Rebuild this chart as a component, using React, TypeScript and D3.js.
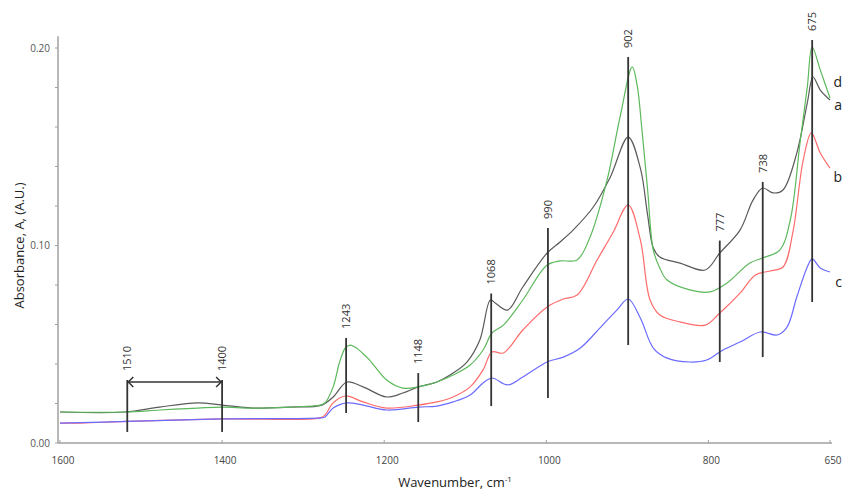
import React, { useEffect, useRef } from 'react';
import * as d3 from 'd3';

// spectra: [wavenumber, absorbance]
const seriesD: [number, number][] = [
  [1600, 0.0157], [1520, 0.0157], [1477, 0.0167], [1430, 0.0177], [1400, 0.0182], [1363, 0.0177],
  [1316, 0.0182], [1279, 0.0192], [1273, 0.0203], [1263, 0.0284], [1255, 0.041], [1248, 0.0481],
  [1242, 0.0496], [1236, 0.0486], [1227, 0.0456], [1218, 0.042], [1197, 0.0319], [1177, 0.0278],
  [1158, 0.0284], [1135, 0.0309], [1115, 0.0344], [1094, 0.0395], [1078, 0.0471], [1067, 0.0557],
  [1053, 0.0597], [1029, 0.0724], [999, 0.0901], [983, 0.0922], [962, 0.0927], [946, 0.1043],
  [925, 0.1332], [909, 0.1651], [894, 0.1904], [888, 0.1813], [882, 0.1585], [875, 0.1281],
  [868, 0.0977], [860, 0.0886], [851, 0.0825], [823, 0.0775], [798, 0.0765], [777, 0.081],
  [749, 0.0911], [733, 0.0937], [712, 0.0977], [699, 0.1129], [687, 0.1519], [678, 0.1803],
  [672, 0.2005], [662, 0.1889], [650, 0.1747]
];

const seriesA: [number, number][] = [
  [1600, 0.0157], [1520, 0.0157], [1477, 0.0182], [1430, 0.0203], [1400, 0.0192], [1363, 0.0177],
  [1316, 0.0182], [1277, 0.0192], [1263, 0.0233], [1246, 0.0309], [1226, 0.0284], [1197, 0.0233],
  [1177, 0.0253], [1158, 0.0284], [1135, 0.0309], [1115, 0.0354], [1098, 0.041], [1082, 0.0522],
  [1069, 0.0724], [1063, 0.0709], [1048, 0.0673], [1029, 0.079], [999, 0.0962], [983, 0.1018],
  [967, 0.1078], [942, 0.1195], [921, 0.1347], [899, 0.1549], [884, 0.1392], [875, 0.1154],
  [868, 0.0987], [860, 0.0942], [835, 0.0911], [804, 0.0876], [786, 0.0962], [761, 0.1078],
  [745, 0.123], [733, 0.1291], [720, 0.1266], [708, 0.1281], [691, 0.1468], [678, 0.1722],
  [671, 0.1853], [662, 0.1787], [650, 0.1737]
];

const seriesB: [number, number][] = [
  [1600, 0.0101], [1575, 0.0101], [1517, 0.0109], [1400, 0.0122], [1279, 0.0127], [1273, 0.0142],
  [1263, 0.0203], [1248, 0.0238], [1226, 0.0208], [1197, 0.0177], [1158, 0.0192], [1135, 0.0208],
  [1115, 0.0233], [1094, 0.0284], [1078, 0.037], [1067, 0.0461], [1053, 0.0456], [1029, 0.0572],
  [999, 0.0689], [979, 0.0729], [962, 0.0749], [937, 0.0929], [918, 0.1063], [899, 0.1205],
  [884, 0.1028], [872, 0.0724], [860, 0.0648], [835, 0.0613], [804, 0.0597], [786, 0.0658],
  [761, 0.0759], [742, 0.0851], [724, 0.0871], [708, 0.0891], [696, 0.1063], [683, 0.1433],
  [673, 0.157], [662, 0.1468], [650, 0.1392]
];

const seriesC: [number, number][] = [
  [1600, 0.0101], [1517, 0.0109], [1400, 0.0122], [1279, 0.0127], [1273, 0.0132], [1263, 0.0177],
  [1246, 0.0203], [1226, 0.0192], [1197, 0.0167], [1158, 0.0182], [1135, 0.0187], [1115, 0.0208],
  [1094, 0.0243], [1078, 0.0304], [1067, 0.0329], [1048, 0.0294], [1029, 0.0334], [999, 0.041],
  [979, 0.0435], [958, 0.0481], [934, 0.0582], [913, 0.0673], [899, 0.0729], [884, 0.0633],
  [868, 0.0481], [851, 0.043], [823, 0.041], [802, 0.042], [782, 0.0471], [761, 0.0511],
  [736, 0.0562], [715, 0.0547], [703, 0.0587], [691, 0.0739], [678, 0.0891], [672, 0.0932],
  [662, 0.0886], [650, 0.0866]
];

const spectra = [
  { name: 'a', color: '#5a5a5a', values: seriesA },
  { name: 'd', color: '#5cb85c', values: seriesD },
  { name: 'b', color: '#ff6b6b', values: seriesB },
  { name: 'c', color: '#6b6bff', values: seriesC }
];

// peak markers: label, wavenumber where line is drawn, top and bottom (absorbance)
const peakLabels = ['1510', '1400', '1243', '1148', '1068', '990', '902', '777', '738', '675'];
const peakPos = [1517, 1400, 1247, 1158, 1068, 998, 899, 786, 733, 672];
const peakTop = [0.0319, 0.0319, 0.0532, 0.0354, 0.0757, 0.1089, 0.1954, 0.1025, 0.1322, 0.2041];
const peakBottom = [0.0056, 0.0056, 0.0152, 0.0106, 0.0187, 0.0228, 0.0496, 0.041, 0.0435, 0.0714];

// double arrow between 1510 and 1400
const arrowSpan = [1517, 1400];
const arrowLevel = 0.0309;

// curve tags at the right edge
const tagNames = ['d', 'a', 'b', 'c'];
const tagLevels = [0.1803, 0.1686, 0.1321, 0.0792];

const xTicks = [1600, 1400, 1200, 1000, 800, 650];
const yTicks = [0, 0.1, 0.2];
const yMinor = d3.range(0, 0.201, 0.02);

const W = 843;
const H = 491;
const FONT = "'Open Sans', 'Noto Sans', sans-serif";

const App = () => {
  const svgRef = useRef<SVGSVGElement>(null);

  useEffect(() => {
    const svg = d3.select(svgRef.current);
    svg.selectAll('*').remove();

    const x = d3.scaleLinear().domain([1600, 650]).range([60, 830]);
    const y = d3.scaleLinear().domain([0, 0.2]).range([443, 48]);
    const axisColor = '#a0a0a0';

    // axes lines
    svg.append('line')
      .attr('x1', 58).attr('x2', 58)
      .attr('y1', y(0)).attr('y2', y(0.206))
      .attr('stroke', axisColor).attr('stroke-width', 1.5);
    svg.append('line')
      .attr('x1', 58).attr('x2', x(650) + 2)
      .attr('y1', y(0)).attr('y2', y(0))
      .attr('stroke', axisColor).attr('stroke-width', 1.5);

    // minor y ticks
    svg.selectAll('.ytick').data(yMinor).enter().append('line')
      .attr('x1', 55).attr('x2', 58)
      .attr('y1', d => y(d)).attr('y2', d => y(d))
      .attr('stroke', axisColor).attr('stroke-width', 1);

    svg.selectAll('.ylab').data(yTicks).enter().append('text')
      .attr('x', 50).attr('y', d => y(d) + 3.5)
      .attr('text-anchor', 'end')
      .style('font-family', FONT).style('font-size', '10px').style('fill', '#555')
      .text(d => d.toFixed(2));

    // x ticks
    svg.selectAll('.xtick').data(xTicks).enter().append('line')
      .attr('x1', d => x(d)).attr('x2', d => x(d))
      .attr('y1', y(0)).attr('y2', y(0) - 3)
      .attr('stroke', axisColor).attr('stroke-width', 1);

    svg.selectAll('.xlab').data(xTicks).enter().append('text')
      .attr('x', d => x(d) + 3).attr('y', y(0) + 21)
      .attr('text-anchor', 'middle')
      .style('font-family', FONT).style('font-size', '10px').style('fill', '#444')
      .text(d => d);

    // axis titles
    const xt = svg.append('text')
      .attr('x', 455).attr('y', 487)
      .attr('text-anchor', 'middle')
      .style('font-family', FONT).style('font-size', '13px').style('fill', '#222');
    xt.append('tspan').text('Wavenumber, cm');
    xt.append('tspan').attr('dy', -5).style('font-size', '8px').text('-1');

    svg.append('text')
      .attr('transform', `translate(24,${y(0.1)}) rotate(-90)`)
      .attr('text-anchor', 'middle')
      .style('font-family', FONT).style('font-size', '13px').style('fill', '#222')
      .text('Absorbance, A, (A.U.)');

    // spectra
    const line = d3.line<[number, number]>()
      .x(d => x(d[0]))
      .y(d => y(d[1]))
      .curve(d3.curveCatmullRom.alpha(0.5));

    svg.selectAll('.spectrum').data(spectra).enter().append('path')
      .attr('d', d => line(d.values))
      .attr('fill', 'none')
      .attr('stroke', d => d.color)
      .attr('stroke-width', 1.2);

    // peak markers
    peakLabels.forEach((lab, i) => {
      const px = x(peakPos[i]);
      svg.append('line')
        .attr('x1', px).attr('x2', px)
        .attr('y1', y(peakTop[i])).attr('y2', y(peakBottom[i]))
        .attr('stroke', '#333').attr('stroke-width', 1.8);
      svg.append('text')
        .attr('transform', `translate(${px + 4},${y(peakTop[i]) - 9}) rotate(-90)`)
        .attr('text-anchor', 'start')
        .style('font-family', FONT).style('font-size', '11px').style('fill', '#333')
        .text(lab);
    });

    // double arrow
    const ax1 = x(arrowSpan[0]);
    const ax2 = x(arrowSpan[1]);
    const ay = y(arrowLevel);
    svg.append('line')
      .attr('x1', ax1).attr('x2', ax2).attr('y1', ay).attr('y2', ay)
      .attr('stroke', '#333').attr('stroke-width', 1.5);
    svg.append('path')
      .attr('d', `M${ax1 + 6},${ay - 5}L${ax1 + 1},${ay}L${ax1 + 6},${ay + 5}M${ax2 - 6},${ay - 5}L${ax2 - 1},${ay}L${ax2 - 6},${ay + 5}`)
      .attr('fill', 'none').attr('stroke', '#333').attr('stroke-width', 1.5);

    // curve tags, kept just inside the right edge
    svg.selectAll('.tag').data(tagNames).enter().append('text')
      .attr('x', W - 1)
      .attr('y', (d, i) => y(tagLevels[i]))
      .attr('text-anchor', 'end')
      .style('font-family', FONT).style('font-size', '14px').style('fill', '#222')
      .text(d => d);
  }, []);

  return (
    <svg ref={svgRef} width={W} height={H}
      style={{ position: 'absolute', left: 0, top: 0, background: '#fff' }} />
  );
};

export default App;
